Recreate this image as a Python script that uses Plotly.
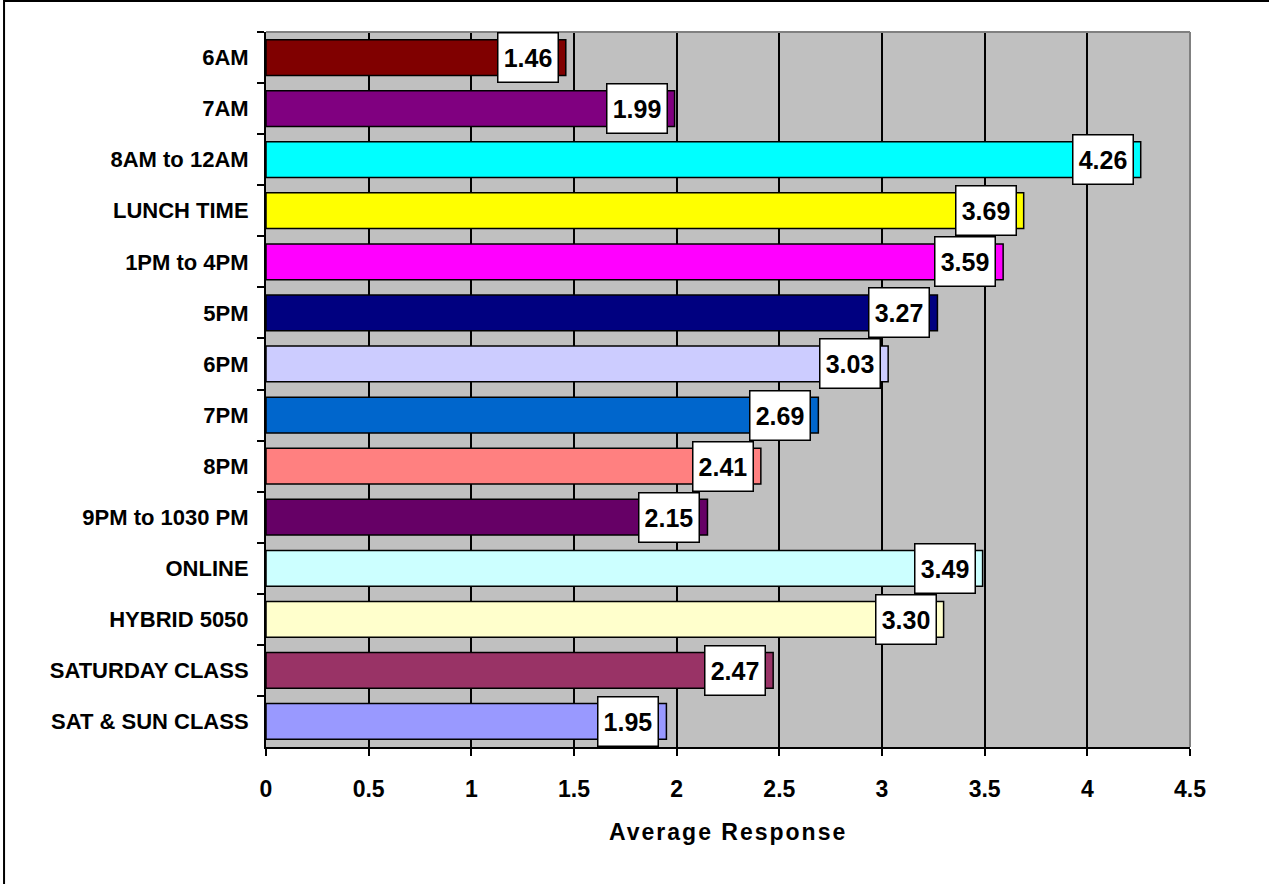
import plotly.graph_objects as go

# Survey: preferred class times, average response per option
categories = [
    "6AM", "7AM", "8AM to 12AM", "LUNCH TIME", "1PM to 4PM", "5PM", "6PM",
    "7PM", "8PM", "9PM to 1030 PM", "ONLINE", "HYBRID 5050",
    "SATURDAY CLASS", "SAT & SUN CLASS",
]
averages = [1.46, 1.99, 4.26, 3.69, 3.59, 3.27, 3.03, 2.69, 2.41, 2.15,
            3.49, 3.30, 2.47, 1.95]
bar_colors = [
    "#800000", "#800080", "#00FFFF", "#FFFF00", "#FF00FF", "#000080",
    "#CCCCFF", "#0066CC", "#FF8080", "#660066", "#CCFFFF", "#FFFFCC",
    "#993366", "#9999FF",
]
x_ticks = [0, 0.5, 1, 1.5, 2, 2.5, 3, 3.5, 4, 4.5]
x_tick_text = ["0", "0.5", "1", "1.5", "2", "2.5", "3", "3.5", "4", "4.5"]

FONT = "Liberation Sans, Arial, sans-serif"

fig = go.Figure()
fig.add_trace(go.Bar(
    x=averages,
    y=categories,
    orientation="h",
    marker=dict(color=bar_colors, line=dict(color="black", width=1.5)),
    hoverinfo="x+y",
))

# Value boxes at the end of each bar
annotations = []
for cat, val in zip(categories, averages):
    annotations.append(dict(
        x=val, y=cat, xref="x", yref="y",
        text=f"<b>{val:.2f}</b>",
        showarrow=False,
        xanchor="right", yanchor="middle", xshift=-7,
        bgcolor="white", bordercolor="black", borderwidth=1.5, borderpad=1,
        width=57, height=46, align="center", valign="middle",
        font=dict(family=FONT, size=25, color="black"),
    ))

# Axis title
annotations.append(dict(
    x=0.5, y=-0.119, xref="paper", yref="paper",
    text='<span style="letter-spacing:2px">Average Response</span>',
    showarrow=False, xanchor="center", yanchor="middle",
    font=dict(family=FONT, size=23, color="black", weight="bold"),
))

shapes = [
    # outer chart frame
    dict(type="rect", xref="paper", yref="paper",
         x0=-0.2835, x1=1.3, y0=-0.4, y1=1.0434,
         line=dict(color="black", width=2), fillcolor="rgba(0,0,0,0)",
         layer="below"),
    # plot-area top and right edges
    dict(type="line", xref="paper", yref="paper", x0=0, x1=1, y0=1, y1=1,
         line=dict(color="#808080", width=2), layer="above"),
    dict(type="line", xref="paper", yref="paper", x0=1, x1=1, y0=0, y1=1,
         line=dict(color="#808080", width=2), layer="above"),
]

fig.update_layout(
    width=1269, height=884,
    margin=dict(l=266, r=79, t=32, b=137, autoexpand=False),
    paper_bgcolor="white",
    plot_bgcolor="#C0C0C0",
    bargap=0.3,
    showlegend=False,
    annotations=annotations,
    shapes=shapes,
    font=dict(family=FONT, color="black"),
)

fig.update_xaxes(
    range=[0, 4.5],
    tickvals=x_ticks, ticktext=x_tick_text,
    showgrid=True, gridcolor="black", gridwidth=2,
    ticks="outside", ticklen=7, tickwidth=2, tickcolor="black",
    showline=True, linecolor="black", linewidth=2,
    tickfont=dict(family=FONT, size=23, color="black", weight="bold"),
    ticklabelstandoff=13,
    zeroline=False,
    fixedrange=True,
)

fig.update_yaxes(
    categoryorder="array", categoryarray=categories,
    autorange="reversed",
    tickson="boundaries",
    showgrid=False,
    ticks="outside", ticklen=7, tickwidth=2, tickcolor="black",
    showline=True, linecolor="black", linewidth=2,
    tickfont=dict(family=FONT, size=22, color="black", weight="bold"),
    ticklabelstandoff=11,
    fixedrange=True,
)

fig.write_html("out.html")
